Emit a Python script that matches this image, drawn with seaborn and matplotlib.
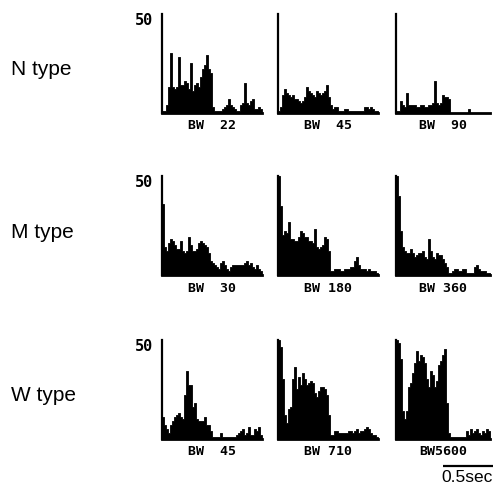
import numpy as np
import pandas as pd
import matplotlib
matplotlib.use("Agg")
import matplotlib.pyplot as plt
import seaborn as sns

# ---- data (spike counts per 20 ms bin) ----
row_labels = ["N type", "M type", "W type"]
bw_labels = [["BW  22", "BW  45", "BW  90"],
             ["BW  30", "BW 180", "BW 360"],
             ["BW  45", "BW 710", "BW5600"]]
bin_width = 0.02  # seconds
ymax = 50

n22 = [1, 1, 4, 13, 30, 13, 12, 13, 28, 14, 14, 16, 15, 12, 25, 11, 14, 15, 13, 18,
       22, 24, 29, 22, 20, 3, 1, 1, 1, 1, 2, 3, 4, 7, 4, 3, 2, 1, 1, 4,
       5, 15, 5, 4, 6, 7, 2, 2, 3, 2]
n45 = [1, 3, 9, 12, 10, 9, 8, 9, 7, 7, 6, 5, 6, 8, 13, 11, 10, 9, 8, 11,
       10, 9, 10, 11, 14, 8, 4, 2, 3, 3, 1, 1, 1, 2, 2, 1, 1, 1, 1, 1,
       1, 1, 1, 3, 3, 2, 3, 2, 1, 1]
n90 = [1, 1, 6, 4, 3, 10, 4, 4, 4, 4, 3, 3, 4, 4, 3, 3, 4, 4, 5, 16,
       5, 4, 5, 9, 8, 8, 7, 0, 0, 0, 0, 0, 0, 0, 0, 0, 2, 0, 0, 0,
       0, 0, 0, 0, 0, 0, 0]
m30 = [36, 14, 12, 16, 18, 17, 15, 13, 13, 17, 12, 11, 12, 19, 15, 12, 12, 13, 16, 17,
       16, 15, 14, 11, 7, 6, 5, 4, 3, 6, 7, 5, 3, 2, 4, 5, 5, 5, 5, 5,
       5, 6, 7, 5, 6, 4, 3, 5, 3, 2]
m180 = [50, 35, 20, 22, 21, 27, 18, 18, 17, 17, 19, 22, 21, 19, 19, 17, 17, 16, 23, 14,
        13, 14, 15, 19, 18, 12, 2, 2, 3, 3, 3, 2, 2, 3, 3, 3, 4, 4, 7, 9,
        5, 3, 3, 3, 2, 3, 2, 2, 2, 1]
m360 = [50, 40, 22, 14, 12, 11, 11, 13, 11, 9, 10, 11, 11, 12, 9, 8, 18, 12, 9, 8,
        11, 10, 10, 8, 6, 4, 1, 1, 2, 3, 3, 2, 2, 3, 3, 1, 1, 1, 1, 4,
        5, 3, 2, 2, 2, 1, 1]
w45 = [11, 7, 5, 3, 7, 9, 11, 12, 13, 11, 10, 22, 34, 27, 27, 16, 18, 10, 9, 9,
       9, 11, 7, 7, 4, 1, 1, 1, 1, 3, 1, 1, 1, 1, 1, 1, 1, 2, 3, 4,
       5, 2, 3, 6, 2, 2, 5, 4, 6, 2]
w710 = [50, 46, 30, 12, 8, 15, 16, 30, 36, 25, 31, 27, 33, 30, 27, 28, 29, 28, 23, 21,
        24, 26, 26, 25, 22, 12, 2, 2, 4, 4, 3, 3, 3, 3, 3, 4, 4, 3, 4, 5,
        3, 4, 4, 5, 6, 5, 3, 2, 2, 1]
w5600 = [50, 48, 40, 14, 10, 14, 26, 28, 33, 38, 44, 39, 42, 41, 38, 30, 26, 34, 32, 26,
         29, 37, 39, 42, 45, 18, 3, 1, 1, 1, 1, 1, 1, 1, 1, 4, 2, 5, 3, 4,
         5, 3, 2, 4, 3, 5, 4]

panels = [[n22, n45, n90], [m30, m180, m360], [w45, w710, w5600]]

# ---- layout (pixels) ----
W, H = 494, 493
col_left = [162, 278, 396]
row_base = [112.5, 275, 438.5]
ax_h = 99
px_per_bin = 2.0

sns.set_style("white")
plt.rcParams["font.family"] = ["Liberation Sans", "DejaVu Sans"]
plt.rcParams["text.color"] = "black"

fig = plt.figure(figsize=(W / 100, H / 100), dpi=100)

for r in range(3):
    for c in range(3):
        vals = np.array(panels[r][c], dtype=float)
        n = len(vals)
        centers = (np.arange(n) + 0.5) * bin_width
        df = pd.DataFrame({"t": centers, "count": vals})
        left = col_left[c] / W
        bottom = 1 - row_base[r] / H
        ax = fig.add_axes([left, bottom, n * px_per_bin / W, ax_h / H])
        sns.histplot(data=df, x="t", weights="count", binwidth=bin_width,
                     binrange=(0, n * bin_width), element="step",
                     fill=True, color="black", alpha=1, linewidth=0.6, ax=ax)
        ax.set_xlim(0, n * bin_width)
        ax.set_ylim(0, ymax)
        ax.set_xticks([])
        ax.set_yticks([])
        ax.set_xlabel("")
        ax.set_ylabel("")
        for s in ["top", "right"]:
            ax.spines[s].set_visible(False)
        ax.spines["left"].set_linewidth(1.6)
        ax.spines["bottom"].set_linewidth(2.0)
        ax.spines["left"].set_color("black")
        ax.spines["bottom"].set_color("black")
        ax.patch.set_alpha(0)
        ax.text(0.5, -0.07, bw_labels[r][c], transform=ax.transAxes,
                ha="center", va="top", fontsize=9.5, fontweight="bold",
                family="DejaVu Sans Mono", color="black")
        if c == 0:
            ax.text(-0.085, 1.01, str(ymax), transform=ax.transAxes,
                    ha="right", va="top", fontsize=11, fontweight="bold",
                    family="DejaVu Sans Mono", color="black")
    # row label
    fig.text(11 / W, 1 - (row_base[r] - 43) / H, row_labels[r],
             ha="left", va="center", fontsize=15, color="black")

# scale bar 0.5 sec
bar_ax = fig.add_axes([443 / W, 1 - 470 / H, 50 / W, 8 / H])
bar_ax.plot([0, 0.5], [0.5, 0.5], color="black", linewidth=1.6)
bar_ax.set_xlim(0, 0.5)
bar_ax.set_ylim(0, 1)
bar_ax.axis("off")
fig.text(441 / W, 1 - 477 / H, "0.5sec", ha="left", va="center",
         fontsize=12.5, color="black")

fig.savefig("out.png", dpi=100)
